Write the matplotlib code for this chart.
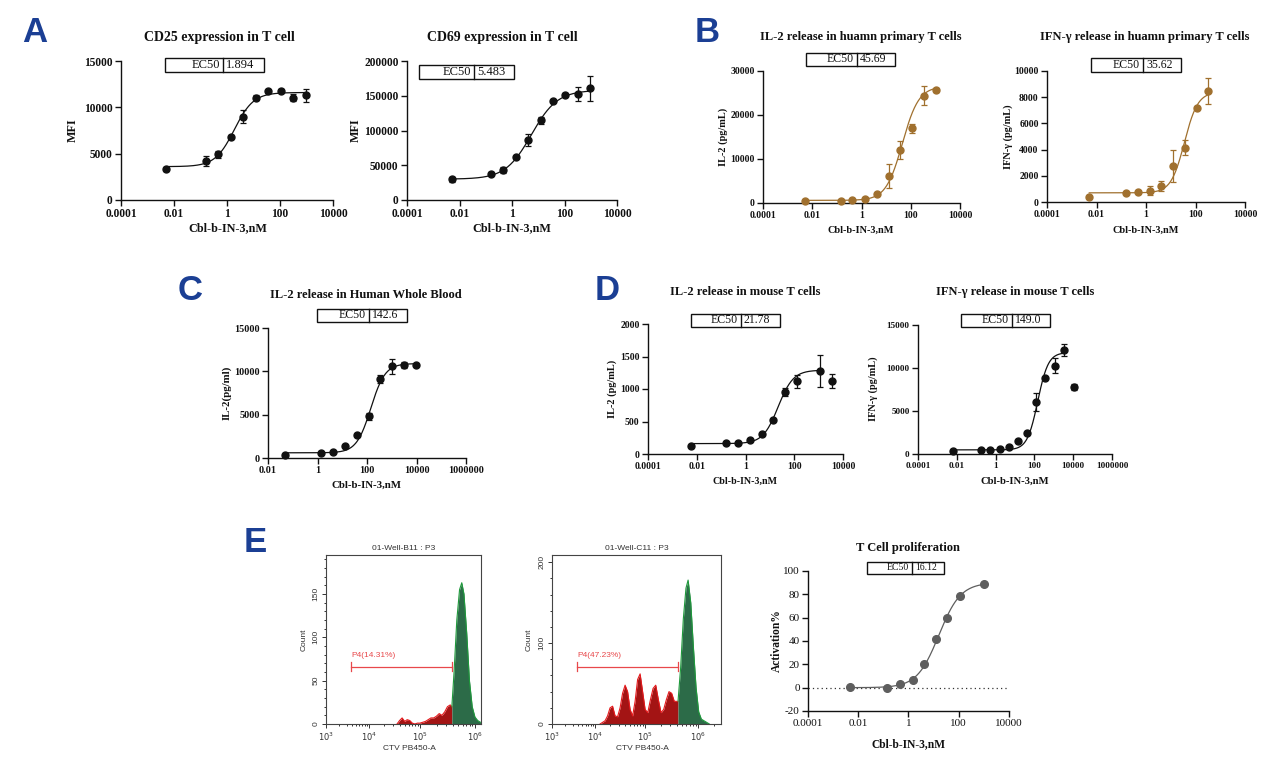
import numpy as np
import matplotlib
matplotlib.use('Agg')
import matplotlib.pyplot as plt
from matplotlib.patches import Rectangle
from matplotlib.lines import Line2D
from matplotlib.ticker import FixedLocator, MultipleLocator, NullLocator

W, H = 1275, 760
SERIF = 'Liberation Serif'
SANS = 'Liberation Sans'
BLACK = '#111111'
BROWN = '#A0702E'
GREY = '#5E5E5E'
LETTER = '#1B3F94'

# ---------------- dose-response data (x in nM) ----------------
a1_x = [0.0052, 0.155, 0.46, 1.4, 4.1, 12.3, 36, 105, 313, 970]
a1_y = [3350, 4200, 4930, 6830, 9000, 11040, 11730, 11800, 11040, 11300]
a1_err = [200, 500, 400, 150, 700, 250, 150, 150, 400, 700]

a2_x = [0.0052, 0.155, 0.46, 1.4, 4.1, 12.3, 36, 105, 313, 970]
a2_y = [30000, 37900, 43200, 62300, 86300, 114600, 142900, 151500, 152000, 160600]
a2_err = [3500, 2500, 5000, 1500, 8000, 5500, 1500, 2000, 10000, 18000]

b1_x = [0.0052, 0.15, 0.42, 1.4, 4.4, 12.7, 38, 112, 345, 1070]
b1_y = [500, 500, 600, 850, 2050, 6100, 12100, 17000, 24400, 25700]
b1_err = [0, 0, 0, 0, 0, 2800, 2000, 1000, 2200, 500]

b2_x = [0.0051, 0.155, 0.48, 1.4, 4.2, 12.3, 36, 112, 330]
b2_y = [360, 690, 740, 860, 1240, 2740, 4160, 7160, 8450]
b2_err = [0, 0, 0, 350, 400, 1200, 600, 0, 1000]

c_x = [0.048, 1.37, 4.4, 12.4, 39, 117, 345, 1020, 3200, 9600]
c_y = [350, 540, 690, 1350, 2620, 4810, 9110, 10580, 10730, 10730]
c_err = [0, 0, 0, 0, 0, 400, 500, 850, 400, 0]

d1_x = [0.0056, 0.155, 0.48, 1.5, 4.6, 13.8, 42, 127, 1100, 3400]
d1_y = [125, 165, 165, 215, 315, 525, 950, 1120, 1275, 1120]
d1_err = [0, 0, 0, 0, 0, 0, 65, 100, 250, 110]

d2_x = [0.0063, 0.18, 0.51, 1.66, 4.7, 14, 43, 126, 363, 1200, 3470, 10500]
d2_y = [390, 430, 470, 570, 780, 1470, 2480, 6050, 8880, 10270, 12090, 7790]
d2_err = [0, 0, 0, 0, 0, 0, 0, 1000, 0, 900, 650, 300]

e3_x = [0.0046, 0.14, 0.44, 1.45, 4.2, 12.3, 35.5, 110, 1000]
e3_y = [0.5, 0, 3.5, 7, 20, 42, 60, 78.5, 89]

# 4PL fit parameters: bottom, top, EC50, hill
fit_a1 = [3600, 11600, 1.894, 1.2]
fit_a2 = [30000, 158000, 5.483, 0.88]
fit_b1 = [600, 26500, 45.69, 1.3]
fit_b2 = [700, 8400, 35.62, 1.6]
fit_c = [600, 10900, 142.6, 1.5]
fit_d1 = [160, 1290, 21.78, 1.4]
fit_d2 = [480, 11800, 149.0, 1.6]
fit_e3 = [0, 90, 16.12, 1.0]

ec50_labels = ['1.894', '5.483', '45.69', '35.62', '142.6', '21.78', '149.0', '16.12']

# ---------------- flow cytometry histograms (log10 CTV, count) ----------------
e1_log = [4.55, 4.60, 4.65, 4.70, 4.75, 4.80, 4.85, 4.90, 4.95, 5.00, 5.05, 5.10, 5.15,
          5.20, 5.25, 5.30, 5.35, 5.40, 5.45, 5.50, 5.55, 5.58, 5.62, 5.67, 5.72, 5.76,
          5.80, 5.85, 5.90, 5.95, 6.00, 6.05, 6.10]
e1_count = [0, 4, 7, 3, 5, 4, 1, 0, 1, 1, 2, 3, 5,
            7, 7, 9, 12, 10, 14, 20, 22, 20, 60, 120, 155, 163,
            150, 105, 50, 20, 8, 4, 2]

e2_log = [4.10, 4.15, 4.20, 4.25, 4.30, 4.35, 4.40, 4.45, 4.50, 4.55, 4.60, 4.65, 4.70,
          4.75, 4.80, 4.85, 4.90, 4.95, 5.00, 5.05, 5.10, 5.15, 5.20, 5.25, 5.30, 5.35,
          5.40, 5.45, 5.50, 5.55, 5.62, 5.67, 5.72, 5.77, 5.81, 5.86, 5.91, 5.96, 6.01,
          6.06, 6.11, 6.16, 6.21]
e2_count = [0, 2, 4, 10, 20, 22, 10, 9, 20, 38, 48, 40, 18,
            10, 28, 55, 62, 40, 18, 14, 30, 44, 48, 30, 14, 18,
            30, 40, 38, 28, 28, 70, 130, 168, 178, 150, 95, 45, 15,
            6, 4, 2, 0]
e1_gate, e2_gate = 5.58, 5.62
gate_start = 3.58
e1_gate_label, e2_gate_label = 'P4(14.31%)', 'P4(47.23%)'

# biexponential-like display of the cytometer axis: log10 decade -> pixel offset
e1_knots = ([3, 4, 5, 6, 7], [0, 43, 94, 149, 204])
e2_knots = ([3, 4, 5, 6, 7], [0, 43, 93, 146, 199])

plt.rcParams['font.family'] = [SERIF, 'DejaVu Serif']
fig = plt.figure(figsize=(W / 100, H / 100), dpi=100)


def px_axes(l, t, r, b):
    return fig.add_axes([l / W, 1 - b / H, (r - l) / W, (b - t) / H])


def ftext(x, y, s, **kw):
    fig.text(x / W, 1 - y / H, s, **kw)


def ec50_box(x0, xm, x1, y0, y1, val, fs=9):
    fig.add_artist(Rectangle((x0 / W, 1 - y1 / H), (x1 - x0) / W, (y1 - y0) / H,
                             transform=fig.transFigure, fill=False, lw=1.0, ec=BLACK))
    fig.add_artist(Line2D([xm / W, xm / W], [1 - y0 / H, 1 - y1 / H],
                          transform=fig.transFigure, lw=1.0, color=BLACK))
    yc = 1 - (y0 + y1) / 2 / H
    fig.text((xm - 3) / W, yc, 'EC50', ha='right', va='center', fontsize=fs, color=BLACK)
    fig.text((xm + 3) / W, yc, val, ha='left', va='center', fontsize=fs, color=BLACK)


def four_pl(x, p):
    bottom, top, ec50, hill = p
    return bottom + (top - bottom) / (1 + (ec50 / x) ** hill)


def dose_panel(box, x, y, err, fit, nfit, color, ytop, ystep, xticks, xlabels,
               ybottom=0, bold=True, ms=5, tfs=7.5):
    ax = px_axes(*box)
    ax.set_xscale('log')
    ax.set_xlim(xticks[0], xticks[-1])
    ax.set_ylim(ybottom, ytop)
    ax.xaxis.set_major_locator(FixedLocator(xticks))
    ax.xaxis.set_minor_locator(NullLocator())
    ax.set_xticklabels(xlabels)
    yt = np.arange(ybottom, ytop + 1, ystep)
    ax.set_yticks(yt)
    ax.set_yticklabels([str(int(v)) for v in yt])
    for s in ['top', 'right']:
        ax.spines[s].set_visible(False)
    for s in ['left', 'bottom']:
        ax.spines[s].set_linewidth(1.0)
        ax.spines[s].set_color(BLACK)
    ax.tick_params(direction='out', length=4, width=1.0, labelsize=tfs, pad=2, colors=BLACK)
    if bold:
        for lab in ax.get_xticklabels() + ax.get_yticklabels():
            lab.set_fontweight('bold')
    xf = np.logspace(np.log10(x[0]), np.log10(x[nfit - 1]), 200)
    ax.plot(xf, four_pl(xf, fit), color=color, lw=0.9, zorder=2)
    if err is None:
        ax.plot(x, y, 'o', color=color, ms=ms, zorder=3, clip_on=False)
    else:
        ax.errorbar(x, y, yerr=err, fmt='o', color=color, ms=ms, capsize=2.5,
                    elinewidth=0.9, capthick=0.9, zorder=3, clip_on=False)
    return ax


def title(x, y, s, fs=9):
    ftext(x, y, s, ha='center', va='center', fontsize=fs, fontweight='bold', color=BLACK)


def xlab(x, y, fs=8):
    ftext(x, y, 'Cbl-b-IN-3,nM', ha='center', va='center', fontsize=fs, fontweight='bold', color=BLACK)


def ylab(x, y, s, fs=8):
    ftext(x, y, s, ha='center', va='center', fontsize=fs, fontweight='bold', color=BLACK, rotation=90)


X4 = [1e-4, 1e-2, 1, 1e2, 1e4]
X4L = ['0.0001', '0.01', '1', '100', '10000']

# ---- A ----
dose_panel((121, 61, 333, 200), a1_x, a1_y, a1_err, fit_a1, 10, BLACK, 15000, 5000, X4, X4L, tfs=8.3)
title(219, 38, 'CD25 expression in T cell', 10)
xlab(228, 228, 8.7)
ylab(73, 130, 'MFI', 8.7)
ec50_box(165, 223, 264, 58, 72, ec50_labels[0])

dose_panel((407, 61, 617, 200), a2_x, a2_y, a2_err, fit_a2, 10, BLACK, 200000, 50000, X4, X4L, tfs=8.3)
title(502, 38, 'CD69 expression in T cell', 10)
xlab(512, 228, 8.7)
ylab(356, 130, 'MFI', 8.7)
ec50_box(419, 474, 514, 65, 79, ec50_labels[1])

# ---- B ----
dose_panel((763, 71, 960, 203), b1_x, b1_y, b1_err, fit_b1, 10, BROWN, 30000, 10000, X4, X4L, tfs=7)
title(861, 37, 'IL-2 release in huamn primary T cells')
xlab(861, 230, 7.4)
ylab(723, 137, 'IL-2 (pg/mL)', 7.4)
ec50_box(806, 857, 895, 53, 66, ec50_labels[2], 8.5)

dose_panel((1047, 71, 1245, 202), b2_x, b2_y, b2_err, fit_b2, 9, BROWN, 10000, 2000, X4, X4L, tfs=7)
title(1145, 37, 'IFN-γ release in huamn primary T cells')
xlab(1146, 230, 7.4)
ylab(1008, 137, 'IFN-γ (pg/mL)', 7.4)
ec50_box(1091, 1143, 1181, 58, 72, ec50_labels[3], 8.5)

# ---- C ----
dose_panel((268, 328, 466, 458), c_x, c_y, c_err, fit_c, 10, BLACK, 15000, 5000,
           [1e-2, 1, 1e2, 1e4, 1e6], ['0.01', '1', '100', '10000', '1000000'], tfs=7.3)
title(366, 295, 'IL-2 release in Human Whole Blood')
xlab(367, 485, 7.8)
ylab(227, 393, 'IL-2(pg/ml)', 7.8)
ec50_box(317, 369, 407, 309, 322, ec50_labels[4], 8.5)

# ---- D ----
dose_panel((648, 324, 843, 454), d1_x, d1_y, d1_err, fit_d1, 9, BLACK, 2000, 500, X4, X4L, tfs=7)
title(745, 292, 'IL-2 release in mouse T cells')
xlab(745, 481, 7.2)
ylab(612, 389, 'IL-2 (pg/mL)', 7.4)
ec50_box(691, 741, 780, 314, 327, ec50_labels[5], 8.5)

dose_panel((918, 325, 1112, 454), d2_x, d2_y, d2_err, fit_d2, 11, BLACK, 15000, 5000,
           [1e-4, 1e-2, 1, 1e2, 1e4, 1e6], ['0.0001', '0.01', '1', '100', '10000', '1000000'], tfs=6.6)
title(1015, 292, 'IFN-γ release in mouse T cells')
xlab(1015, 481, 7.7)
ylab(873, 389, 'IFN-γ (pg/mL)', 7.4)
ec50_box(961, 1012, 1050, 314, 327, ec50_labels[6], 8.5)

# ---- E: proliferation curve ----
ax = dose_panel((808, 571, 1009, 711), e3_x, e3_y, None, fit_e3, 9, GREY, 100, 20, X4, X4L,
                ybottom=-20, bold=False, ms=5.5, tfs=8)
ax.axhline(0, color='#333333', lw=0.9, ls=(0, (1, 2.5)), zorder=1)
title(908, 548, 'T Cell proliferation')
xlab(908, 744, 8.3)
ylab(777, 641, 'Activation%', 8.3)
ec50_box(867, 912, 944, 562, 574, ec50_labels[7], fs=7)

# ---- E: flow histograms ----
RED_FILL, RED_EDGE = '#A31414', '#E5191C'
GRN_FILL, GRN_EDGE = '#2C6B48', '#1F9A3C'
GATE = '#E8484B'


def flow_panel(box, lx, cnt, gate, knots, xmax_log, ytop, ymaj, ymin, ttl, gate_label, tx):
    ax = px_axes(*box)
    kl, kp = knots

    def fwd(v):
        return np.interp(np.log10(np.clip(v, 1e-9, None)), kl, kp)

    def inv(p):
        return 10 ** np.interp(p, kp, kl)

    ax.set_xscale('function', functions=(fwd, inv))
    ax.set_xlim(1e3, 10 ** xmax_log)
    ax.set_ylim(0, ytop)
    lx = np.array(lx)
    xs = 10 ** lx
    c = np.array(cnt, dtype=float)
    red = lx <= gate + 1e-9
    grn = lx >= gate - 1e-9
    ax.fill_between(xs[red], 0, c[red], color=RED_FILL, lw=0)
    ax.plot(xs[red], c[red], color=RED_EDGE, lw=0.8)
    ax.fill_between(xs[grn], 0, c[grn], color=GRN_FILL, lw=0)
    ax.plot(xs[grn], c[grn], color=GRN_EDGE, lw=0.8)
    g0, g1 = 10 ** gate_start, 10 ** gate
    gy = 0.34 * ytop
    ax.plot([g0, g1], [gy, gy], color=GATE, lw=0.9)
    for gx in (g0, g1):
        ax.plot([gx, gx], [gy - 0.025 * ytop, gy + 0.025 * ytop], color=GATE, lw=0.9)
    ax.text(g0, gy + 0.045 * ytop, gate_label, color=GATE, fontsize=6,
            family=SANS, ha='left', va='bottom')
    ax.xaxis.set_major_locator(FixedLocator([1e3, 1e4, 1e5, 1e6]))
    ax.set_xticklabels([r'$10^{3}$', r'$10^{4}$', r'$10^{5}$', r'$10^{6}$'])
    minors = [k * 10.0 ** e for e in range(3, 7) for k in range(2, 10)]
    ax.xaxis.set_minor_locator(FixedLocator([m for m in minors if m < 10 ** xmax_log]))
    ax.yaxis.set_major_locator(MultipleLocator(ymaj))
    ax.yaxis.set_minor_locator(MultipleLocator(ymin))
    ax.tick_params(which='both', direction='out', width=0.7, colors='#333333',
                   labelsize=6, pad=1.5)
    ax.tick_params(which='major', length=3)
    ax.tick_params(which='minor', length=1.6)
    for lab in ax.get_yticklabels():
        lab.set_rotation(90)
        lab.set_va('center')
        lab.set_family(SANS)
    for s in ax.spines.values():
        s.set_linewidth(0.8)
        s.set_color('#444444')
    l, t, r, b = box
    ftext((l + r) / 2, 549, ttl, ha='center', va='center', fontsize=6, family=SANS, color='#333333')
    ftext((l + r) / 2 + 6, 748, 'CTV PB450-A', ha='center', va='center', fontsize=6, family=SANS, color='#333333')
    ftext(tx, 640, 'Count', ha='center', va='center', fontsize=6, family=SANS, color='#333333', rotation=90)


flow_panel((326, 555, 481, 724), e1_log, e1_count, e1_gate, e1_knots, 6.11, 195, 50, 10,
           '01-Well-B11 : P3', e1_gate_label, 304)
flow_panel((552, 555, 721, 724), e2_log, e2_count, e2_gate, e2_knots, 6.43, 209, 100, 20,
           '01-Well-C11 : P3', e2_gate_label, 529)

# ---- panel letters ----
for letter, (lx_, ly_) in zip('ABCDE', [(35, 33), (707, 33), (190, 290), (607, 290), (255, 543)]):
    ftext(lx_, ly_, letter, ha='center', va='center', fontsize=25, fontweight='bold',
          color=LETTER, family=SANS)

fig.savefig('out.png', dpi=100)
